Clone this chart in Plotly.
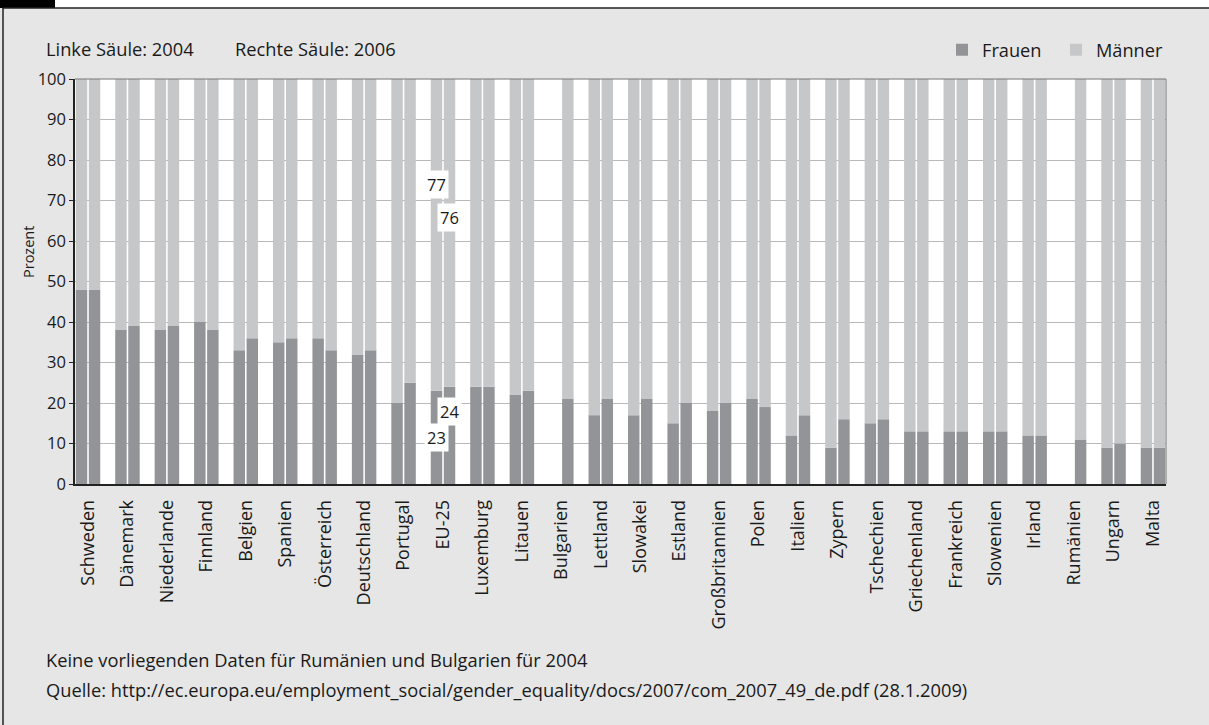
import plotly.graph_objects as go

countries = ["Schweden", "Dänemark", "Niederlande", "Finnland", "Belgien", "Spanien",
             "Österreich", "Deutschland", "Portugal", "EU-25", "Luxemburg", "Litauen",
             "Bulgarien", "Lettland", "Slowakei", "Estland", "Großbritannien", "Polen",
             "Italien", "Zypern", "Tschechien", "Griechenland", "Frankreich", "Slowenien",
             "Irland", "Rumänien", "Ungarn", "Malta"]
frauen_2004 = [48, 38, 38, 40, 33, 35, 36, 32, 20, 23, 24, 22, None, 17, 17, 15, 18, 21,
               12, 9, 15, 13, 13, 13, 12, None, 9, 9]
frauen_2006 = [48, 39, 39, 38, 36, 36, 33, 33, 25, 24, 24, 23, 21, 21, 21, 20, 20, 19,
               17, 16, 16, 13, 13, 13, 12, 11, 10, 9]
maenner_2004 = [None if f is None else 100 - f for f in frauen_2004]
maenner_2006 = [None if f is None else 100 - f for f in frauen_2006]
y_ticks = list(range(0, 101, 10))

C_F = "#939498"
C_M = "#c6c7c9"
BG = "#e6e6e6"
FONT = "Open Sans"
TXT = "#1a1a1a"

W, H = 1209, 725
L, R, T, B = 75, 43, 79, 241
PW, PH = W - L - R, H - T - B

def px(x):
    return (x - L) / PW

def py(y):
    return (H - B - y) / PH

fig = go.Figure()
fig.add_bar(x=countries, y=frauen_2004, offsetgroup="2004", marker_color=C_F,
            name="Frauen", legendgroup="f", marker_line_width=0)
fig.add_bar(x=countries, y=maenner_2004, base=frauen_2004, offsetgroup="2004",
            marker_color=C_M, name="Männer", legendgroup="m", marker_line_width=0)
fig.add_bar(x=countries, y=frauen_2006, offsetgroup="2006", marker_color=C_F,
            name="Frauen", legendgroup="f", showlegend=False, marker_line_width=0)
fig.add_bar(x=countries, y=maenner_2006, base=frauen_2006, offsetgroup="2006",
            marker_color=C_M, name="Männer", legendgroup="m", showlegend=False,
            marker_line_width=0)

ann = []
def txt(x, y, s, size=18.3, **kw):
    d = dict(x=px(x), y=py(y), xref="paper", yref="paper", text=s, showarrow=False,
             xanchor="left", yanchor="middle", font=dict(family=FONT, size=size, color=TXT))
    d.update(kw)
    ann.append(d)

txt(44, 49, "Linke Säule: 2004")
txt(233, 49, "Rechte Säule: 2006")
txt(44, 659, "Keine vorliegenden Daten für Rumänien und Bulgarien für 2004")
txt(44, 689, "Quelle: http://ec.europa.eu/employment_social/gender_equality/docs/2007/com_2007_49_de.pdf (28.1.2009)")
txt(28, 252, "Prozent", size=14.5, textangle=-90, xanchor="center")

i_eu = countries.index("EU-25")
for val, yv, shift in [(maenner_2004[i_eu], 74, -6.5), (maenner_2006[i_eu], 65.7, 6.5),
                       (frauen_2004[i_eu], 11.4, -6.5), (frauen_2006[i_eu], 18, 6.5)]:
    ann.append(dict(x="EU-25", y=yv, xref="x", yref="y", text=str(val), showarrow=False,
                    xshift=shift, bgcolor="white", borderpad=2,
                    font=dict(family=FONT, size=16.5, color=TXT)))

shapes = [
    dict(type="rect", xref="paper", yref="paper", x0=px(0), x1=px(W), y0=py(0), y1=py(8),
         fillcolor="white", line_width=0, layer="below"),
    dict(type="rect", xref="paper", yref="paper", x0=px(0), x1=px(55), y0=py(0), y1=py(8),
         fillcolor="black", line_width=0),
    dict(type="line", xref="paper", yref="paper", x0=px(3), x1=px(W), y0=py(8), y1=py(8),
         line=dict(color="#222", width=1.5)),
    dict(type="line", xref="paper", yref="paper", x0=px(3), x1=px(3), y0=py(8), y1=py(H),
         line=dict(color="#222", width=1.5)),
    dict(type="line", xref="paper", yref="paper", x0=1, x1=1, y0=0, y1=1,
         line=dict(color="#777", width=1)),
    dict(type="line", xref="paper", yref="paper", x0=0, x1=1, y0=1, y1=1,
         line=dict(color="#777", width=1)),
]

fig.update_layout(
    width=W, height=H,
    margin=dict(l=L, r=R, t=T, b=B),
    paper_bgcolor=BG, plot_bgcolor="white",
    barmode="group", bargap=0.34, bargroupgap=0.12,
    font=dict(family=FONT, size=18, color=TXT),
    legend=dict(orientation="h", x=px(942), xanchor="left", y=py(50), yanchor="middle",
                bgcolor="rgba(0,0,0,0)", font=dict(size=18.2), traceorder="normal",
                entrywidth=69, entrywidthmode="pixels", itemwidth=30),
    annotations=ann, shapes=shapes,
    xaxis=dict(type="category", range=[-0.33, len(countries) - 0.67], tickangle=-90,
               showline=True, linecolor="#222", linewidth=1.5, ticks="",
               ticklabelstandoff=7,
               tickfont=dict(size=18), showgrid=False, fixedrange=True),
    yaxis=dict(range=[0, 100], tickvals=y_ticks, showline=True, linecolor="#222",
               linewidth=1.5, ticks="outside", ticklen=4, tickcolor="#222",
               gridcolor="#b9b9b9", gridwidth=1, tickfont=dict(size=16.5),
               zeroline=False, fixedrange=True),
)

fig.write_html("out.html", config={"displayModeBar": False},
               post_script="document.body.style.margin='0';")
